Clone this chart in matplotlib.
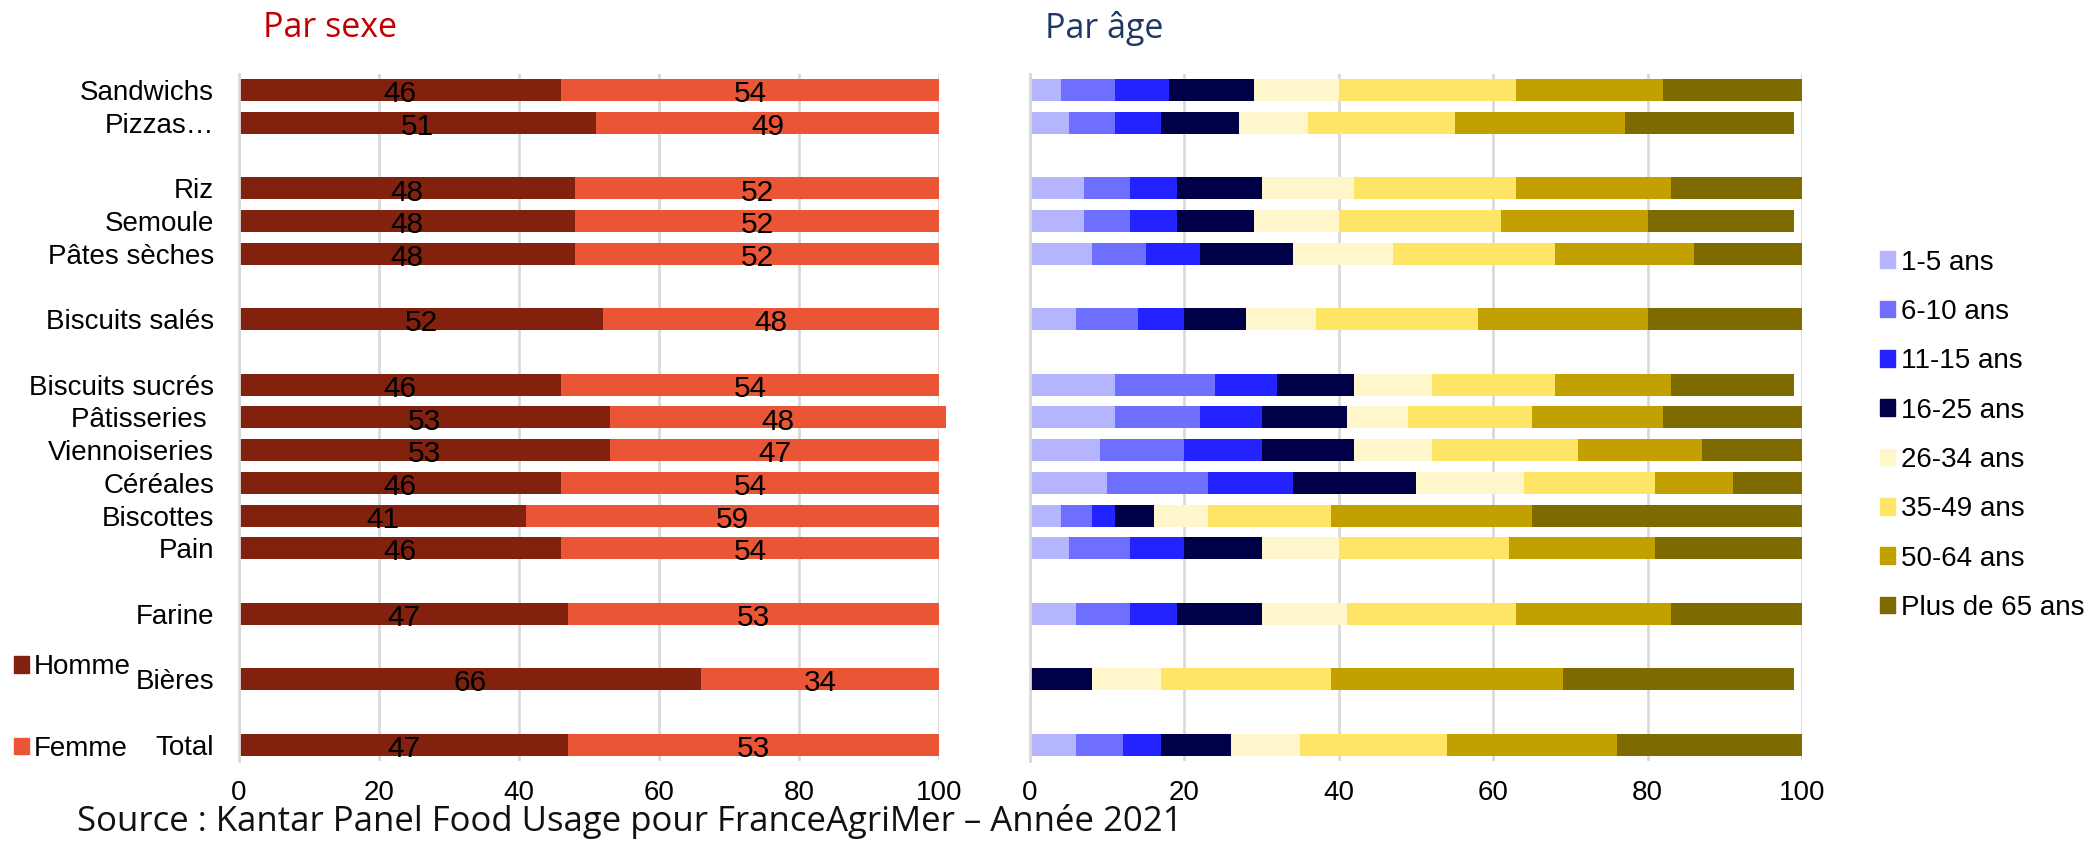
import matplotlib
matplotlib.use("Agg")
import matplotlib.pyplot as plt
from matplotlib.patches import Patch
import numpy as np

# categories, top to bottom ('' = empty spacer rows of the original chart)
categories = ['Sandwichs', 'Pizzas…', '', 'Riz', 'Semoule', 'Pâtes sèches', '',
              'Biscuits salés', '', 'Biscuits sucrés', 'Pâtisseries ', 'Viennoiseries',
              'Céréales', 'Biscottes', 'Pain', '', 'Farine', '', 'Bières', '', 'Total']

# par sexe
homme = [46, 51, None, 48, 48, 48, None, 52, None, 46, 53, 53, 46, 41, 46, None, 47, None, 66, None, 47]
femme = [54, 49, None, 52, 52, 52, None, 48, None, 54, 48, 47, 54, 59, 54, None, 53, None, 34, None, 53]

# par âge
age_labels = ['1-5 ans', '6-10 ans', '11-15 ans', '16-25 ans', '26-34 ans',
              '35-49 ans', '50-64 ans', 'Plus de 65 ans']
age_1_5 =   [4, 5, None, 7, 7, 8, None, 6, None, 11, 11, 9, 10, 4, 5, None, 6, None, 0, None, 6]
age_6_10 =  [7, 6, None, 6, 6, 7, None, 8, None, 13, 11, 11, 13, 4, 8, None, 7, None, 0, None, 6]
age_11_15 = [7, 6, None, 6, 6, 7, None, 6, None, 8, 8, 10, 11, 3, 7, None, 6, None, 0, None, 5]
age_16_25 = [11, 10, None, 11, 10, 12, None, 8, None, 10, 11, 12, 16, 5, 10, None, 11, None, 8, None, 9]
age_26_34 = [11, 9, None, 12, 11, 13, None, 9, None, 10, 8, 10, 14, 7, 10, None, 11, None, 9, None, 9]
age_35_49 = [23, 19, None, 21, 21, 21, None, 21, None, 16, 16, 19, 17, 16, 22, None, 22, None, 22, None, 19]
age_50_64 = [19, 22, None, 20, 19, 18, None, 22, None, 15, 17, 16, 10, 26, 19, None, 20, None, 30, None, 22]
age_65p =   [18, 22, None, 17, 19, 14, None, 20, None, 16, 18, 13, 9, 35, 19, None, 17, None, 30, None, 24]

sexe_colors = ['#82220E', '#EA5635']
age_colors = ['#B5B5FF', '#6F6FFF', '#2323FF', '#000046',
              '#FFF6CC', '#FFE566', '#C2A000', '#7F6A00']

plt.rcParams['font.family'] = ['Liberation Sans', 'DejaVu Sans']
plt.rcParams['font.size'] = 20

fig = plt.figure(figsize=(20.92, 8.43), dpi=100)
ax1 = fig.add_axes([0.1143, 0.0973, 0.3346, 0.815])
ax2 = fig.add_axes([0.4924, 0.0973, 0.3690, 0.815])

y = np.arange(len(categories))
h = np.array(homme, dtype=float)
f = np.array(femme, dtype=float)


def style_axis(ax):
    ax.set_xlim(0, 100)
    ax.set_ylim(len(categories) - 0.5, -0.5)
    ax.set_xticks([0, 20, 40, 60, 80, 100])
    ax.grid(axis='x', color='#D9D9D9', linewidth=2)
    ax.set_axisbelow(True)
    for s in ['top', 'right', 'bottom']:
        ax.spines[s].set_visible(False)
    ax.spines['left'].set_color('#D9D9D9')
    ax.spines['left'].set_linewidth(2)
    ax.tick_params(axis='x', length=0, pad=14, labelsize=20)
    ax.tick_params(axis='y', length=0)


# left: par sexe
ax1.barh(y, h, height=0.67, color=sexe_colors[0], label='Homme', clip_on=False)
ax1.barh(y, f, left=h, height=0.67, color=sexe_colors[1], label='Femme', clip_on=False)
for yi, hv, fv in zip(y, h, f):
    if np.isnan(hv):
        continue
    ax1.annotate(f'{hv:.0f}', (hv / 2, yi), xytext=(0, -3), textcoords='offset points',
                 ha='center', va='center', fontsize=21.5)
    ax1.annotate(f'{fv:.0f}', (hv + fv / 2, yi), xytext=(0, -3), textcoords='offset points',
                 ha='center', va='center', fontsize=21.5)
style_axis(ax1)
ax1.set_yticks(y)
ax1.set_yticklabels(categories)
ax1.tick_params(axis='y', pad=18, labelsize=20)

# right: par âge
series = [age_1_5, age_6_10, age_11_15, age_16_25, age_26_34, age_35_49, age_50_64, age_65p]
left = np.zeros(len(categories))
for vals, lab, col in zip(series, age_labels, age_colors):
    v = np.array(vals, dtype=float)
    ax2.barh(y, v, left=left, height=0.67, color=col, label=lab, clip_on=False)
    left = left + np.nan_to_num(v)
style_axis(ax2)
ax2.set_yticks([])

# titles
fig.text(263 / 2092, 1 - 28 / 843, 'Par sexe', color='#C00000', fontsize=24.5,
         family='Open Sans', va='center', ha='left')
fig.text(1045 / 2092, 1 - 28 / 843, 'Par âge', color='#1F3864', fontsize=24.5,
         family='Open Sans', va='center', ha='left')

# legends
handles1 = [Patch(color=c) for c in sexe_colors]
fig.legend(handles1, ['Homme', 'Femme'], loc='upper left',
           bbox_to_anchor=(0.0067, 0.224), frameon=False, fontsize=20,
           handlelength=0.55, handleheight=0.55, handletextpad=0.15,
           labelspacing=2.0, borderpad=0, borderaxespad=0)

handles2 = [Patch(color=c) for c in age_colors]
fig.legend(handles2, age_labels, loc='upper left',
           bbox_to_anchor=(0.8987, 0.704), frameon=False, fontsize=20,
           handlelength=0.55, handleheight=0.55, handletextpad=0.2,
           labelspacing=0.84, borderpad=0, borderaxespad=0)

# source
fig.text(77 / 2092, 4 / 843, 'Source : Kantar Panel Food Usage pour FranceAgriMer – Année 2021',
         fontsize=25, family='Open Sans', va='bottom', ha='left', color='#111111')

fig.savefig('out.png', dpi=100)
